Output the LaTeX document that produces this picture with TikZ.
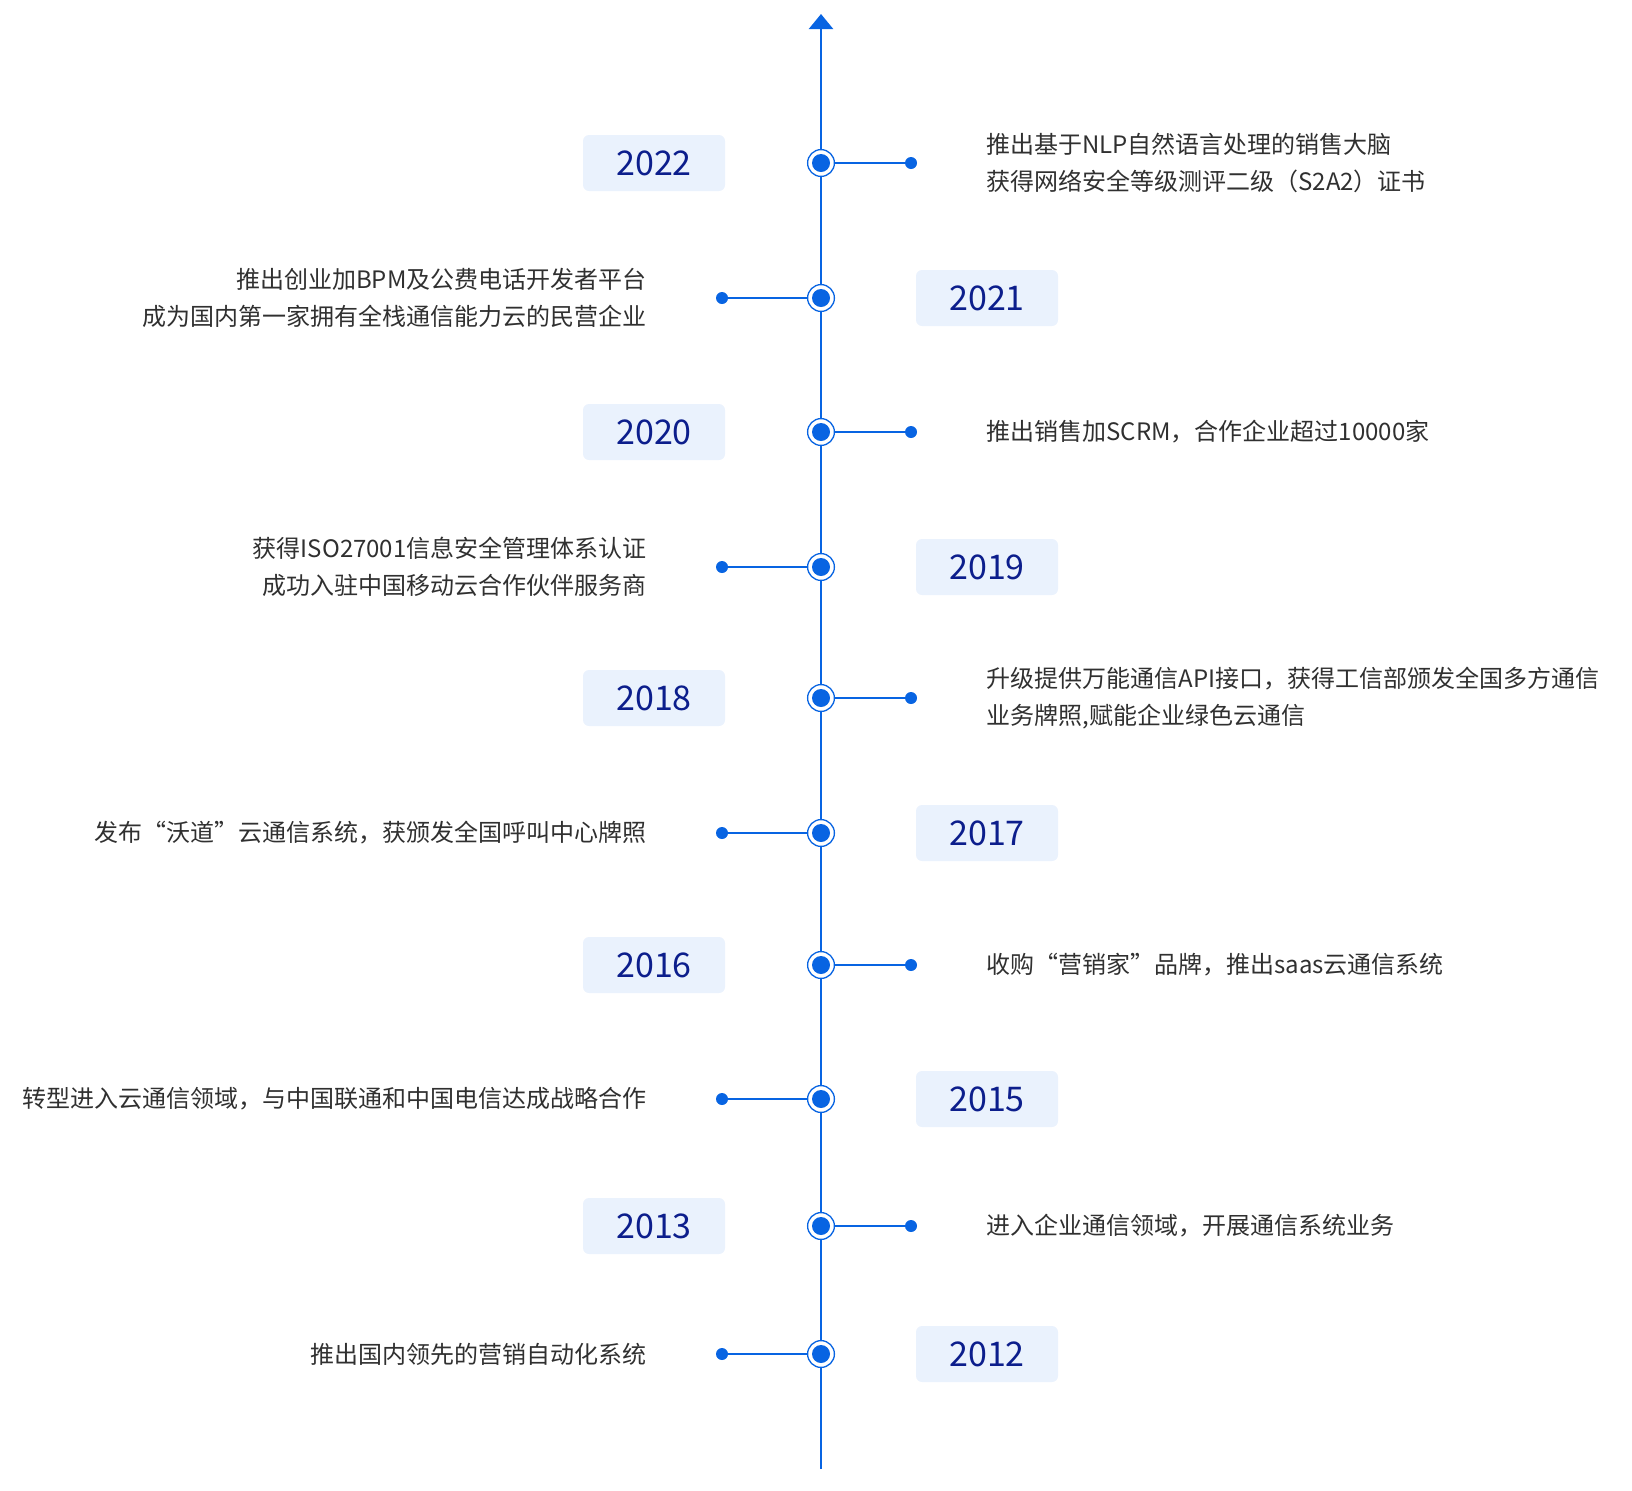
\documentclass[tikz,border=0pt]{standalone}
\usepackage{fontspec}
\setmainfont{Noto Sans CJK SC}
\usetikzlibrary{arrows.meta}

\definecolor{tlblue}{RGB}{8,100,226}
\definecolor{yearnavy}{RGB}{12,30,140}
\definecolor{yearbg}{RGB}{234,242,253}
\definecolor{txtgray}{RGB}{48,48,48}

\begin{document}
\begin{tikzpicture}[x=0.5pt,y=-0.5pt,
    ring/.style={circle,draw=tlblue,line width=0.65pt,fill=white,minimum size=13.4pt,inner sep=0pt,
      path picture={\fill[tlblue] (path picture bounding box.center) circle (4.5pt);}},
    enddot/.style={circle,fill=tlblue,minimum size=6pt,inner sep=0pt},
    yearbox/.style={fill=yearbg,rounded corners=3pt,minimum width=71pt,minimum height=28pt,
      inner sep=0pt,text=yearnavy,font=\fontsize{17}{20}\selectfont},
    rtext/.style={anchor=west,align=left,inner sep=0pt,text=txtgray,font=\fontsize{12}{18.5}\selectfont},
    ltext/.style={anchor=east,align=right,inner sep=0pt,text=txtgray,font=\fontsize{12}{18.5}\selectfont},
    link/.style={draw=tlblue,line width=0.7pt}]

    \useasboundingbox (0,0) rectangle (1632,1490);

    % timeline axis
    \coordinate (top) at (821,14);
    \coordinate (bottom) at (821,1469);
    \draw[tlblue,line width=1.15pt,-{Triangle[width=12pt,length=7.5pt]}] (bottom) -- (top);

    % 2022
    \node[ring] (r22) at (821,163) {};
    \node[enddot] (d22) at (911,163) {};
    \node[yearbox] (y22) at (654,163) {2022};
    \node[rtext] (t22) at (986,163) {推出基于NLP自然语言处理的销售大脑\\获得网络安全等级测评二级（S2A2）证书};
    \draw[link] (r22) -- (d22);

    % 2021
    \node[ring] (r21) at (821,298) {};
    \node[enddot] (d21) at (722,298) {};
    \node[yearbox] (y21) at (987,298) {2021};
    \node[ltext] (t21) at (647,298) {推出创业加BPM及公费电话开发者平台\\成为国内第一家拥有全栈通信能力云的民营企业};
    \draw[link] (r21) -- (d21);

    % 2020
    \node[ring] (r20) at (821,432) {};
    \node[enddot] (d20) at (911,432) {};
    \node[yearbox] (y20) at (654,432) {2020};
    \node[rtext] (t20) at (986,432) {推出销售加SCRM，合作企业超过10000家};
    \draw[link] (r20) -- (d20);

    % 2019
    \node[ring] (r19) at (821,567) {};
    \node[enddot] (d19) at (722,567) {};
    \node[yearbox] (y19) at (987,567) {2019};
    \node[ltext] (t19) at (647,567) {获得ISO27001信息安全管理体系认证\\成功入驻中国移动云合作伙伴服务商};
    \draw[link] (r19) -- (d19);

    % 2018
    \node[ring] (r18) at (821,698) {};
    \node[enddot] (d18) at (911,698) {};
    \node[yearbox] (y18) at (654,698) {2018};
    \node[rtext] (t18) at (986,698) {升级提供万能通信API接口，获得工信部颁发全国多方通信\\业务牌照,赋能企业绿色云通信};
    \draw[link] (r18) -- (d18);

    % 2017
    \node[ring] (r17) at (821,833) {};
    \node[enddot] (d17) at (722,833) {};
    \node[yearbox] (y17) at (987,833) {2017};
    \node[ltext] (t17) at (647,833) {发布“沃道”云通信系统，获颁发全国呼叫中心牌照};
    \draw[link] (r17) -- (d17);

    % 2016
    \node[ring] (r16) at (821,965) {};
    \node[enddot] (d16) at (911,965) {};
    \node[yearbox] (y16) at (654,965) {2016};
    \node[rtext] (t16) at (986,965) {收购“营销家”品牌，推出saas云通信系统};
    \draw[link] (r16) -- (d16);

    % 2015
    \node[ring] (r15) at (821,1099) {};
    \node[enddot] (d15) at (722,1099) {};
    \node[yearbox] (y15) at (987,1099) {2015};
    \node[ltext] (t15) at (647,1099) {转型进入云通信领域，与中国联通和中国电信达成战略合作};
    \draw[link] (r15) -- (d15);

    % 2013
    \node[ring] (r13) at (821,1226) {};
    \node[enddot] (d13) at (911,1226) {};
    \node[yearbox] (y13) at (654,1226) {2013};
    \node[rtext] (t13) at (986,1226) {进入企业通信领域，开展通信系统业务};
    \draw[link] (r13) -- (d13);

    % 2012
    \node[ring] (r12) at (821,1354) {};
    \node[enddot] (d12) at (722,1354) {};
    \node[yearbox] (y12) at (987,1354) {2012};
    \node[ltext] (t12) at (647,1354) {推出国内领先的营销自动化系统};
    \draw[link] (r12) -- (d12);

\end{tikzpicture}
\end{document}
